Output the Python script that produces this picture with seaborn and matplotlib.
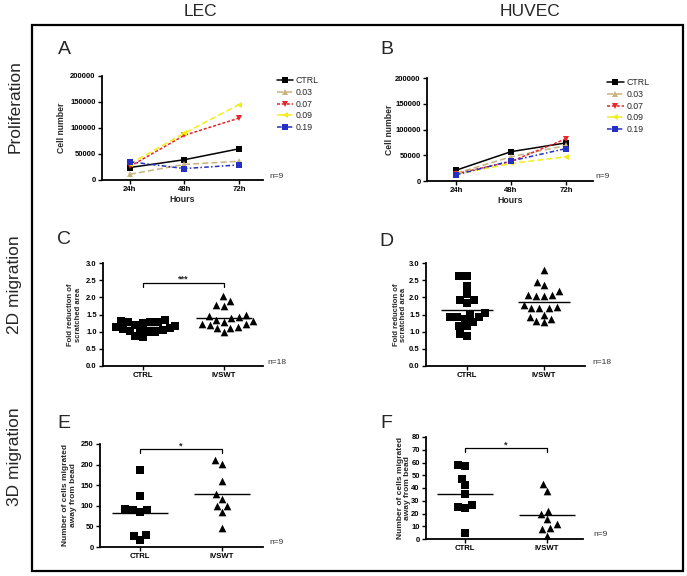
import numpy as np
import pandas as pd
import matplotlib
matplotlib.use("Agg")
import matplotlib.pyplot as plt
import seaborn as sns
from matplotlib.patches import Rectangle

# ---------------- data ----------------
hours = ["24h", "48h", "72h"]
doses = ["CTRL", "0.03", "0.07", "0.09", "0.19"]

lec_ctrl = [24000, 39000, 60000]
lec_003 = [11000, 30000, 36000]
lec_007 = [26000, 86000, 119000]
lec_009 = [31000, 90000, 145000]
lec_019 = [35000, 22000, 29000]

huvec_ctrl = [21000, 57000, 74000]
huvec_003 = [15000, 47000, 69000]
huvec_007 = [14000, 38000, 82000]
huvec_009 = [13000, 34000, 47000]
huvec_019 = [12000, 39000, 63000]

groups = ["CTRL", "IVSWT"]

c_ctrl = [1.32, 1.27, 1.25, 1.27, 1.29, 1.35, 1.17, 1.15, 1.18, 1.12,
          1.00, 1.02, 1.05, 1.04, 1.00, 1.08, 0.84, 0.87]
c_ivswt = [2.04, 1.90, 1.77, 1.74, 1.48, 1.45, 1.40, 1.42, 1.35, 1.30,
           1.28, 1.22, 1.20, 1.22, 1.15, 1.12, 1.10, 0.98]

d_ctrl = [2.61, 2.63, 2.32, 2.10, 1.93, 1.93, 1.83, 1.55, 1.50, 1.42,
          1.42, 1.42, 1.36, 1.28, 1.16, 1.16, 0.87, 0.92]
d_ivswt = [2.80, 2.46, 2.37, 2.17, 2.07, 2.05, 2.05, 2.07, 1.78, 1.68,
           1.68, 1.70, 1.73, 1.50, 1.44, 1.36, 1.31, 1.27]

e_ctrl = [187, 124, 93, 90, 85, 90, 28, 18, 27]
e_ivswt = [211, 201, 161, 128, 117, 99, 99, 85, 46]

f_ctrl = [58, 57, 47, 42, 35, 25, 24, 27, 5]
f_ivswt = [43, 38, 22, 19.5, 16, 11.5, 9, 7.5, 2.6]

cell_ticks = [0, 50000, 100000, 150000, 200000]
cell_ticklabels = ["0", "50000", "100000", "150000", "200000"]
fold_ticks = [0.0, 0.5, 1.0, 1.5, 2.0, 2.5, 3.0]
fold_ticklabels = ["0.0", "0.5", "1.0", "1.5", "2.0", "2.5", "3.0"]
e_ticks = [0, 50, 100, 150, 200, 250]
e_ticklabels = ["0", "50", "100", "150", "200", "250"]
f_ticks = [0, 10, 20, 30, 40, 50, 60, 70, 80]
f_ticklabels = ["0", "10", "20", "30", "40", "50", "60", "70", "80"]

# ---------------- styles ----------------
dose_colors = {"CTRL": "#000000", "0.03": "#c8b27e", "0.07": "#e8262a",
               "0.09": "#f2ee1a", "0.19": "#2430c4"}
dose_markers = {"CTRL": "s", "0.03": "^", "0.07": "v", "0.09": "<", "0.19": "s"}
dose_dashes = {"CTRL": "", "0.03": (4, 2), "0.07": (2, 1.2),
               "0.09": (4, 2), "0.19": (3, 1.5, 1, 1.5)}

W, H = 687, 576
sns.set_theme(style="ticks")
plt.rcParams['font.family'] = ['Liberation Sans', 'DejaVu Sans']

fig = plt.figure(figsize=(W / 100, H / 100), dpi=100)


def ax_at(x0, y0, x1, y1):
    return fig.add_axes([x0 / W, 1 - y1 / H, (x1 - x0) / W, (y1 - y0) / H])


def px_text(x, y, s, **kw):
    fig.text(x / W, 1 - y / H, s, **kw)


def style_ax(ax, yticks, yticklabels, xlabels):
    for side in ["top", "right"]:
        ax.spines[side].set_visible(False)
    for side in ["left", "bottom"]:
        ax.spines[side].set_linewidth(1.3)
        ax.spines[side].set_color("black")
    ax.tick_params(axis="both", direction="out", length=3, width=1.0,
                   pad=1.5, colors="black")
    ax.set_yticks(yticks)
    ax.set_yticklabels(yticklabels, fontsize=5.5, fontweight="bold")
    ax.set_xticks(range(len(xlabels)))
    ax.set_xticklabels(xlabels, fontsize=5.6, fontweight="bold")
    ax.set_facecolor("white")


def ylabel_at(ax, text, ax_box, right_px, size, weight="bold"):
    x0, y0, x1, y1 = ax_box
    ax.set_ylabel(text, fontsize=size, fontweight=weight, linespacing=1.1)
    ax.yaxis.set_label_coords((right_px - x0) / (x1 - x0), 0.5)


def growth_panel(box, xlim, series, n_xy):
    ax = ax_at(*box)
    vals = np.concatenate(series)
    df = pd.DataFrame({"Hours": np.tile(hours, len(doses)),
                       "Cells": vals,
                       "Dose": np.repeat(doses, len(hours))})
    sns.lineplot(data=df, x="Hours", y="Cells", hue="Dose", style="Dose",
                 hue_order=doses, style_order=doses, palette=dose_colors,
                 markers=dose_markers, dashes=dose_dashes, markersize=3.8,
                 markeredgewidth=0, linewidth=1.1, ax=ax)
    ax.set_xlim(*xlim)
    ax.set_ylim(0, 200000)
    style_ax(ax, cell_ticks, cell_ticklabels, hours)
    ax.set_xlabel("Hours", fontsize=6.3, fontweight="bold")
    ax.xaxis.set_label_coords(0.5, -0.145)
    sns.move_legend(ax, "upper left", bbox_to_anchor=(1.085, 1.0),
                    frameon=False, title=None, fontsize=6.3,
                    handlelength=1.9, labelspacing=0.32,
                    handletextpad=0.3, borderaxespad=0, borderpad=0)
    px_text(n_xy[0], n_xy[1], "n=9", fontsize=6, color="#333333",
            va="center", ha="left")
    return ax


def scatter_panel(box, xlim, ctrl, ivswt, ylim, yt, ytl, n_xy, ntext):
    ax = ax_at(*box)
    dfc = pd.DataFrame({"g": ["CTRL"] * len(ctrl), "v": ctrl})
    dfi = pd.DataFrame({"g": ["IVSWT"] * len(ivswt), "v": ivswt})
    sns.swarmplot(data=dfc, x="g", y="v", order=groups, marker="s",
                  color="black", size=5.2, linewidth=0, ax=ax)
    sns.swarmplot(data=dfi, x="g", y="v", order=groups, marker="^",
                  color="black", size=5.5, linewidth=0, ax=ax)
    for i, vals in enumerate([ctrl, ivswt]):
        ax.hlines(np.mean(vals), i - 0.34, i + 0.34, color="black", lw=1.0)
    ax.set_xlim(*xlim)
    ax.set_ylim(*ylim)
    style_ax(ax, yt, ytl, groups)
    ax.set_xlabel("")
    px_text(n_xy[0], n_xy[1], ntext, fontsize=6, color="#333333",
            va="center", ha="left")
    return ax


def bracket(ax, y_top, y_bot, star, star_y):
    ax.plot([0, 0, 1, 1], [y_bot, y_top, y_top, y_bot], color="black", lw=0.9,
            clip_on=False)
    ax.text(0.5, star_y, star, ha="center", va="center", fontsize=6.5,
            fontweight="bold")


# ---------------- panels ----------------
boxA = (102, 76, 263, 180)
axA = growth_panel(boxA, (-0.51, 2.44),
                   [lec_ctrl, lec_003, lec_007, lec_009, lec_019], (269, 176))
ylabel_at(axA, "Cell number", boxA, 66, 6.2)

boxB = (427, 78, 593, 181)
axB = growth_panel(boxB, (-0.53, 2.49),
                   [huvec_ctrl, huvec_003, huvec_007, huvec_009, huvec_019],
                   (595, 176))
ylabel_at(axB, "Cell number", boxB, 394, 6.2)

boxC = (103, 263, 263, 366)
axC = scatter_panel(boxC, (-0.49, 1.48), c_ctrl, c_ivswt, (0, 3.0),
                    fold_ticks, fold_ticklabels, (267, 362), "n=18")
ylabel_at(axC, "Fold reduction of\nscratched area", boxC, 82, 5.5)
bracket(axC, 2.41, 2.31, "***", 2.52)

boxD = (426, 263, 585, 366)
axD = scatter_panel(boxD, (-0.53, 1.53), d_ctrl, d_ivswt, (0, 3.0),
                    fold_ticks, fold_ticklabels, (592, 362), "n=18")
ylabel_at(axD, "Fold reduction of\nscratched area", boxD, 407, 5.5)

boxE = (100, 444, 263, 547)
axE = scatter_panel(boxE, (-0.49, 1.5), e_ctrl, e_ivswt, (0, 250),
                    e_ticks, e_ticklabels, (269, 542), "n=9")
ylabel_at(axE, "Number of cells migrated\naway from bead", boxE, 77, 6.0)
bracket(axE, 238, 228, "*", 246)

boxF = (426, 437, 583, 539)
axF = scatter_panel(boxF, (-0.48, 1.44), f_ctrl, f_ivswt, (0, 80),
                    f_ticks, f_ticklabels, (593, 534), "n=9")
ylabel_at(axF, "Number of cells migrated\naway from bead", boxF, 411, 6.0)
bracket(axF, 71.4, 68.2, "*", 74)

# ---------------- figure decorations ----------------
fig.add_artist(Rectangle((32 / W, 1 - 571 / H), (683 - 32) / W, (571 - 25) / H,
                         transform=fig.transFigure, fill=False,
                         edgecolor="black", lw=1.6))

px_text(200, 11, "LEC", fontsize=12.5, ha="center", va="center")
px_text(530, 11, "HUVEC", fontsize=12.5, ha="center", va="center")

for label, yc in [("Proliferation", 107), ("2D migration", 285),
                  ("3D migration", 457)]:
    px_text(15, yc, label, fontsize=12.5, rotation=90, ha="center",
            va="center")

for letter, (lx, ly) in {"A": (64, 50), "B": (387, 49), "C": (64, 239),
                         "D": (386, 242), "E": (64, 423),
                         "F": (386, 423)}.items():
    px_text(lx, ly, letter, fontsize=14, ha="center", va="center")

fig.savefig("out.png", dpi=100)
